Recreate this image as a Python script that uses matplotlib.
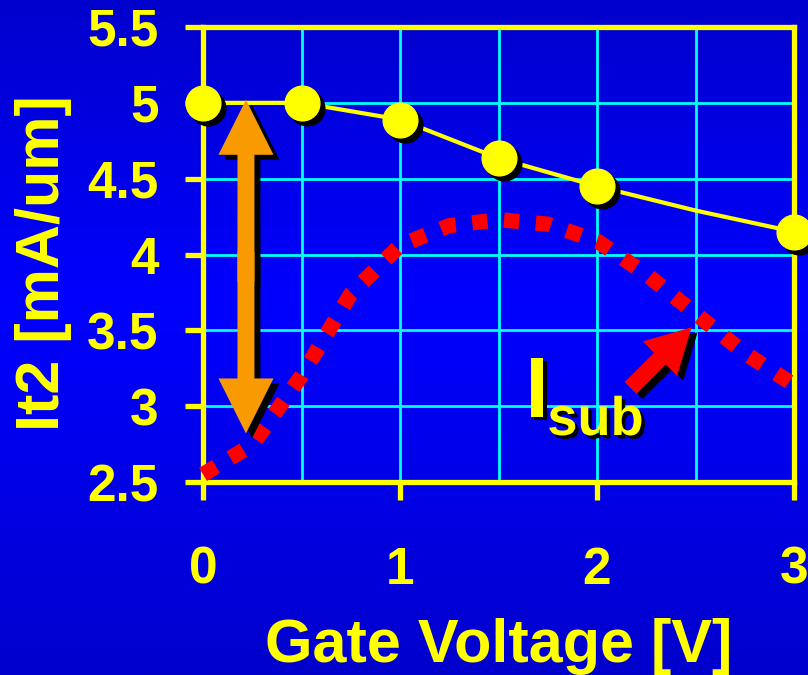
import numpy as np
import matplotlib
matplotlib.use("Agg")
import matplotlib.pyplot as plt
from matplotlib.patches import FancyArrowPatch, ArrowStyle
from matplotlib.colors import LinearSegmentedColormap
import matplotlib.patheffects as pe
from matplotlib.ticker import MultipleLocator, FuncFormatter
import matplotlib.transforms as mtransforms

# ---- data ----
gate_v = [0, 0.5, 1.0, 1.5, 2.0, 2.5, 3.0]
it2 = [5.0, 5.0, 4.89, 4.635, 4.45, 4.29, 4.15]
marker_idx = [0, 1, 2, 3, 4, 6]

isub_v = [0, 0.25, 0.5, 0.75, 1.0, 1.25, 1.5, 1.75, 2.0, 2.25, 2.5, 2.75, 3.0]
isub_curve = [2.55, 2.745, 3.20, 3.74, 4.06, 4.19, 4.23, 4.20, 4.09, 3.87, 3.61, 3.35, 3.14]

x_ticks = [0, 1, 2, 3]
y_ticks = [2.5, 3.0, 3.5, 4.0, 4.5, 5.0, 5.5]

# annotation anchors (data coords)
orange_x = 0.218
orange_top, orange_bot = 5.02, 2.82
red_tail = (2.17, 3.12)
red_tip = (2.48, 3.52)

YELLOW = "#FFFF00"
CYAN = "#00FFFF"
ORANGE = "#F99B00"
RED = "#FF0000"

plt.rcParams['font.family'] = ['Liberation Sans', 'DejaVu Sans']
plt.rcParams['font.weight'] = 'bold'

fig = plt.figure(figsize=(8.08, 6.75), dpi=100)

# gradient background
bg = fig.add_axes([0, 0, 1, 1], zorder=-10)
cmap = LinearSegmentedColormap.from_list(
    "bluegrad", [(0.0, (0, 0, 0.80)), (0.45, (0, 0, 1.0)), (1.0, (0, 0, 0.80))])
grad = np.linspace(0, 1, 256).reshape(-1, 1)
bg.imshow(grad, aspect='auto', cmap=cmap, extent=[0, 1, 0, 1], origin='upper')
bg.set_axis_off()

ax = fig.add_axes([203 / 808, 193 / 675, 591 / 808, 455 / 675])
ax.set_facecolor('none')
ax.set_xlim(0, 3)
ax.set_ylim(2.5, 5.5)

# grid
ax.xaxis.set_major_locator(MultipleLocator(1))
ax.xaxis.set_minor_locator(MultipleLocator(0.5))
ax.yaxis.set_major_locator(MultipleLocator(0.5))
ax.grid(True, which='both', color=CYAN, lw=2.0, zorder=0)
ax.set_axisbelow(True)

for s in ax.spines.values():
    s.set_color(YELLOW)
    s.set_linewidth(3.8)
    s.set_zorder(1)

ax.tick_params(axis='x', which='major', direction='out', length=13, width=3.8,
               color=YELLOW, labelcolor=YELLOW, labelsize=37, pad=33)
ax.tick_params(axis='x', which='minor', length=0)
ax.tick_params(axis='y', which='major', direction='out', length=13, width=3.8,
               color=YELLOW, labelcolor=YELLOW, labelsize=37, pad=19)
ax.set_xticks(x_ticks)
ax.set_yticks(y_ticks)
ax.yaxis.set_major_formatter(FuncFormatter(lambda v, p: f"{v:g}"))
for lab in ax.get_xticklabels() + ax.get_yticklabels():
    lab.set_fontweight('bold')

ax.set_xlabel("Gate Voltage [V]", fontsize=44, fontweight='bold', color=YELLOW)
ax.set_ylabel("It2 [mA/um]", fontsize=44, fontweight='bold', color=YELLOW)
ax.xaxis.set_label_coords(0.5, -0.298)
ax.yaxis.set_label_coords(-0.222, 0.481)

# Isub dotted curve
ax.plot(isub_v, isub_curve, color=RED, lw=11, dashes=(1, 1.09),
        dash_capstyle='butt', solid_capstyle='butt', zorder=3, clip_on=False)

# It2 line
ax.plot(gate_v, it2, color=YELLOW, lw=3, zorder=4, clip_on=False)
shadow_tr = mtransforms.offset_copy(ax.transData, fig=fig, x=5, y=-5, units='dots')
mx = [gate_v[i] for i in marker_idx]
my = [it2[i] for i in marker_idx]
ax.plot(mx, my, ls='none', marker='o', ms=25, mfc='black', mec='black',
        transform=shadow_tr, zorder=5, clip_on=False)
ax.plot(mx, my, ls='none', marker='o', ms=25, mfc=YELLOW, mec=YELLOW,
        zorder=6, clip_on=False)

# orange double-headed arrow (two simple arrows overlapping in the middle)
arrow_shadow_tr = mtransforms.offset_copy(ax.transData, fig=fig, x=6, y=-5, units='dots')
mid = (orange_top + orange_bot) / 2
ostyle = ArrowStyle.Simple(head_length=39.6, head_width=39.6, tail_width=12.2)
for tr, col, z in ((arrow_shadow_tr, 'black', 6.8), (ax.transData, ORANGE, 7)):
    for start, tip in ((mid - 0.1, orange_top), (mid + 0.1, orange_bot)):
        a = FancyArrowPatch((orange_x, start), (orange_x, tip), arrowstyle=ostyle,
                            mutation_scale=1, color=col, lw=0, shrinkA=0, shrinkB=0,
                            zorder=z, transform=tr)
        ax.add_patch(a)

# red arrow
rstyle = ArrowStyle.Simple(head_length=32, head_width=35, tail_width=12)
for tr, col, z in ((arrow_shadow_tr, 'black', 6.8), (ax.transData, RED, 7)):
    ra = FancyArrowPatch(red_tail, red_tip, arrowstyle=rstyle, mutation_scale=1,
                         color=col, lw=0, shrinkA=0, shrinkB=0, zorder=z, transform=tr)
    ax.add_patch(ra)

# I_sub label
txt_pe = [pe.withSimplePatchShadow(offset=(2.5, -2.5), shadow_rgbFace='black', alpha=1.0)]
ax.text(1.635, 2.93, "I", fontsize=62, fontweight='bold', color=YELLOW,
        ha='left', va='baseline', zorder=8, path_effects=txt_pe)
ax.text(1.748, 2.81, "sub", fontsize=39, fontweight='bold', color=YELLOW,
        ha='left', va='baseline', zorder=8, path_effects=txt_pe)

fig.savefig("out.png", dpi=100)
